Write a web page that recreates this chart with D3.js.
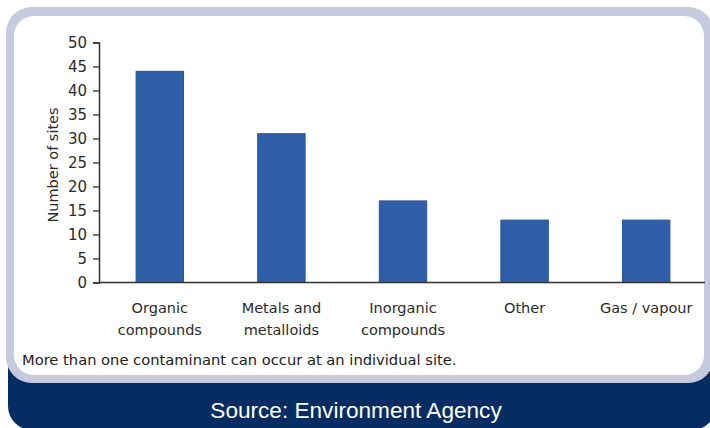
<!DOCTYPE html>
<html>
<head>
<meta charset="utf-8">
<script src="https://cdn.jsdelivr.net/npm/d3@7"></script>
<style>
  html, body { margin: 0; padding: 0; background: #ffffff; }
  svg { display: block; }
  text { font-family: "DejaVu Sans", Verdana, sans-serif; }
</style>
</head>
<body>
<svg id="chart" width="710" height="428"></svg>
<script>
// Contaminant types found at sites, with the number of sites for each
const categories = [
  ["Organic", "compounds"],
  ["Metals and", "metalloids"],
  ["Inorganic", "compounds"],
  ["Other"],
  ["Gas / vapour"]
];
const siteCounts = [44, 31, 17, 13, 13];
const yTicks = [0, 5, 10, 15, 20, 25, 30, 35, 40, 45, 50];
const yTitle = "Number of sites";
const footnote = "More than one contaminant can occur at an individual site.";
const sourceText = "Source: Environment Agency";

const svg = d3.select("#chart");

// Frame: navy footer band, lavender border, white card
svg.append("rect")
  .attr("x", 8).attr("y", 300).attr("width", 708).attr("height", 130)
  .attr("rx", 24).attr("fill", "#062d63");
svg.append("rect")
  .attr("x", 6).attr("y", 7).attr("width", 708).attr("height", 376)
  .attr("rx", 26).attr("fill", "#c5cadf");
svg.append("rect")
  .attr("x", 14).attr("y", 16).attr("width", 690).attr("height", 359)
  .attr("rx", 20).attr("fill", "#ffffff");

// Scales
const labels = categories.map(c => c.join(" "));
const x = d3.scaleBand()
  .domain(labels)
  .range([99, 707])
  .paddingInner(0.61)
  .paddingOuter(0.305);
const y = d3.scaleLinear().domain([0, 50]).range([282.5, 42.5]);

// Bars
svg.append("g")
  .selectAll("rect")
  .data(siteCounts)
  .join("rect")
  .attr("x", (d, i) => x(labels[i]))
  .attr("y", d => y(d))
  .attr("width", x.bandwidth())
  .attr("height", d => y(0) - y(d))
  .attr("fill", "#2f5fa9")
  .attr("stroke", "#2a5599")
  .attr("stroke-width", 1);

// Y axis
const yAxis = svg.append("g")
  .attr("transform", "translate(99,0)")
  .call(d3.axisLeft(y).tickValues(yTicks).tickSize(6).tickPadding(6));
yAxis.select(".domain").attr("stroke", "#333").attr("stroke-width", 1.5);
yAxis.selectAll(".tick line").attr("stroke", "#333").attr("stroke-width", 1.3);
yAxis.selectAll(".tick text")
  .attr("fill", "#2b2b2b")
  .style("font-size", "15px")
  .style("font-family", "'DejaVu Sans', sans-serif");

// X axis baseline
svg.append("line")
  .attr("x1", 99).attr("x2", 705)
  .attr("y1", y(0)).attr("y2", y(0))
  .attr("stroke", "#333").attr("stroke-width", 1.5);

// Category labels (one or two lines)
const catG = svg.append("g");
categories.forEach((lines, i) => {
  const cx = x(labels[i]) + x.bandwidth() / 2;
  const t = catG.append("text")
    .attr("x", cx).attr("y", 313)
    .attr("text-anchor", "middle")
    .attr("fill", "#2b2b2b")
    .style("font-size", "14.5px");
  lines.forEach((ln, k) => {
    t.append("tspan").attr("x", cx).attr("dy", k === 0 ? 0 : 22).text(ln);
  });
});

// Y axis title
svg.append("text")
  .attr("transform", "translate(58,165) rotate(-90)")
  .attr("text-anchor", "middle")
  .attr("fill", "#2b2b2b")
  .style("font-size", "14.5px")
  .text(yTitle);

// Footnote
svg.append("text")
  .attr("x", 22).attr("y", 365)
  .attr("fill", "#222")
  .style("font-size", "14.7px")
  .text(footnote);

// Source line in the footer band
svg.append("text")
  .attr("x", 356).attr("y", 418)
  .attr("text-anchor", "middle")
  .attr("fill", "#ffffff")
  .style("font-family", "'Liberation Sans', Arial, sans-serif")
  .style("font-size", "22.6px")
  .text(sourceText);
</script>
</body>
</html>
